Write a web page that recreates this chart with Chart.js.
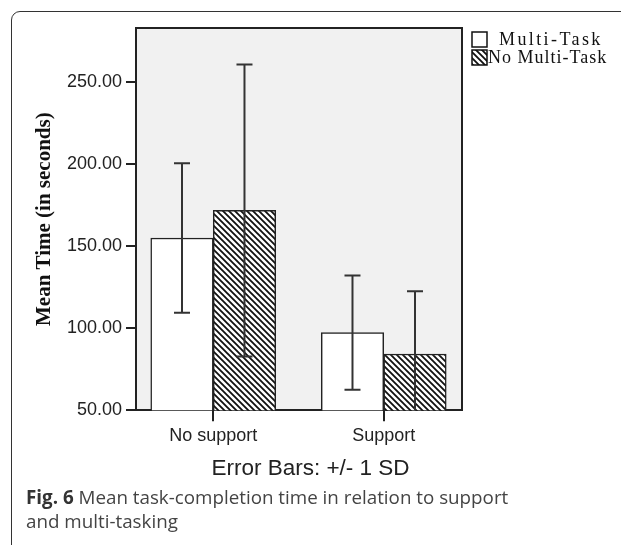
<!DOCTYPE html>
<html>
<head>
<meta charset="utf-8">
<script src="https://cdn.jsdelivr.net/npm/chart.js@4/dist/chart.umd.min.js"></script>
<style>
  body { margin: 0; background: #fff; }
  #frame {
    position: absolute; left: 11px; top: 11px; width: 700px; height: 600px;
    border: 1.5px solid #333; border-top-left-radius: 9px;
  }
  #myChart { position: absolute; left: 0; top: 0; }
  #caption {
    position: absolute; left: 26px; top: 485px;
    font-family: "Open Sans", sans-serif; font-size: 18.8px; line-height: 24px; color: #444;
  }
  #caption b { color: #333; }
</style>
</head>
<body>
<div id="frame"></div>
<canvas id="myChart" width="621" height="490"></canvas>
<div id="caption"><b>Fig. 6</b> Mean task-completion time in relation to support<br>and multi-tasking</div>
<script>
/**
 * chart values
 */
var categories = ['No support', 'Support'];
var multiMean = [155.0, 97.4];
var multiSD = [45.5, 34.8];
var noMultiMean = [171.8, 84.3];
var noMultiSD = [89.0, 38.2];
var yTicks = [50, 100, 150, 200, 250];

// diagonal hatch for the "No Multi-Task" bars
function makeHatch() {
  var c = document.createElement('canvas');
  c.width = 6; c.height = 6;
  var g = c.getContext('2d');
  g.fillStyle = '#fff';
  g.fillRect(0, 0, 6, 6);
  g.strokeStyle = '#111';
  g.lineWidth = 1.8;
  g.beginPath();
  g.moveTo(-1, -1); g.lineTo(7, 7);
  g.moveTo(5, -1); g.lineTo(7, 1);
  g.moveTo(-1, 5); g.lineTo(1, 7);
  g.stroke();
  return g.createPattern(c, 'repeat');
}
var hatch = makeHatch();

const plotBox = {
  id: 'plotBox',
  beforeDraw(chart) {
    const a = chart.chartArea, ctx = chart.ctx;
    ctx.save();
    ctx.fillStyle = '#f1f1f1';
    ctx.fillRect(a.left, a.top, a.right - a.left, a.bottom - a.top);
    ctx.restore();
  },
  afterDraw(chart) {
    const a = chart.chartArea, ctx = chart.ctx;
    ctx.save();
    ctx.strokeStyle = '#222';
    ctx.lineWidth = 2;
    ctx.beginPath();
    ctx.moveTo(a.left, a.top);
    ctx.lineTo(a.right, a.top);
    ctx.lineTo(a.right, a.bottom);
    ctx.stroke();
    ctx.restore();
  }
};

const errorBars = {
  id: 'errorBars',
  afterDatasetsDraw(chart) {
    const ctx = chart.ctx, a = chart.chartArea, y = chart.scales.y;
    ctx.save();
    ctx.beginPath();
    ctx.rect(a.left, a.top, a.right - a.left, a.bottom - a.top);
    ctx.clip();
    ctx.strokeStyle = '#333';
    ctx.lineWidth = 2;
    chart.data.datasets.forEach((ds, i) => {
      chart.getDatasetMeta(i).data.forEach((bar, j) => {
        const m = ds.data[j].y, s = ds.sd[j];
        const hi = y.getPixelForValue(m + s), lo = y.getPixelForValue(m - s);
        ctx.beginPath();
        ctx.moveTo(bar.x, hi); ctx.lineTo(bar.x, lo);
        ctx.moveTo(bar.x - 8, hi); ctx.lineTo(bar.x + 8, hi);
        ctx.moveTo(bar.x - 8, lo); ctx.lineTo(bar.x + 8, lo);
        ctx.stroke();
      });
    });
    ctx.restore();
  }
};

const sideLegend = {
  id: 'sideLegend',
  afterDraw(chart) {
    const ctx = chart.ctx;
    const rows = [{ x: 499, y: 32, sp: '2.4px' }, { x: 488, y: 50, sp: '1px' }];
    ctx.save();
    ctx.font = '18px "Liberation Serif", serif';
    ctx.textBaseline = 'middle';
    chart.data.datasets.forEach((ds, i) => {
      const r = rows[i];
      ctx.fillStyle = ds.backgroundColor;
      ctx.fillRect(472, r.y, 15, 15);
      ctx.strokeStyle = '#111';
      ctx.lineWidth = 1.5;
      ctx.strokeRect(472, r.y, 15, 15);
      ctx.fillStyle = '#111';
      ctx.letterSpacing = r.sp;
      ctx.fillText(ds.label, r.x, r.y + 8);
    });
    ctx.restore();
  }
};

const data = {
  datasets: [
    {
      label: 'Multi-Task',
      data: multiMean.map((v, i) => ({ x: i, y: v })),
      sd: multiSD,
      backgroundColor: '#ffffff',
      borderColor: '#222',
      borderWidth: 1.5,
    },
    {
      label: 'No Multi-Task',
      data: noMultiMean.map((v, i) => ({ x: i, y: v })),
      sd: noMultiSD,
      backgroundColor: hatch,
      borderColor: '#222',
      borderWidth: 1.5,
    }
  ]
};

const config = {
  type: 'bar',
  data,
  options: {
    responsive: false,
    animation: false,
    devicePixelRatio: 1,
    barThickness: 62.5,
    layout: { padding: { top: 28, right: 0, bottom: 0, left: 0 } },
    plugins: {
      legend: { display: false },
      tooltip: { enabled: false },
      title: {
        display: true,
        position: 'bottom',
        text: 'Error Bars: +/- 1 SD',
        color: '#222',
        font: { family: '"Liberation Sans", Arial', size: 22.5, weight: 'normal' },
        padding: { top: 0, bottom: 8 }
      }
    },
    scales: {
      x: {
        type: 'linear',
        min: -0.453,
        max: 1.459,
        offset: false,
        afterBuildTicks: (s) => { s.ticks = categories.map((c, i) => ({ value: i })); },
        afterFit: (s) => { s.height = 44.7; },
        ticks: {
          callback: (v) => categories[v],
          color: '#222',
          font: { family: '"Liberation Sans", Arial', size: 18 },
          padding: 4,
          maxRotation: 0
        },
        grid: { drawOnChartArea: false, offset: false, tickLength: 11, color: '#222', lineWidth: 2 },
        border: { color: '#222', width: 2 }
      },
      y: {
        min: 50,
        max: 283,
        afterBuildTicks: (s) => { s.ticks = yTicks.map(v => ({ value: v })); },
        afterFit: (s) => { s.width = 136; },
        ticks: {
          callback: (v) => v.toFixed(2),
          color: '#222',
          font: { family: '"Liberation Sans", Arial', size: 18 },
          padding: 4
        },
        grid: { drawOnChartArea: false, tickLength: 10, color: '#222', lineWidth: 2 },
        border: { color: '#222', width: 2 },
        title: {
          display: true,
          text: 'Mean Time (in seconds)',
          color: '#111',
          font: { family: '"Liberation Serif", serif', size: 21, weight: 'bold' },
          padding: { top: 32, bottom: 0 }
        }
      },
      // empty right-hand strip that holds the legend
      side: {
        type: 'linear',
        position: 'right',
        afterFit: (s) => { s.width = 159; },
        ticks: { display: false },
        grid: { display: false },
        border: { display: false }
      }
    }
  },
  plugins: [plotBox, errorBars, sideLegend]
};

document.addEventListener('DOMContentLoaded', (event) => {
  myChart = new Chart(document.getElementById('myChart'), config);
});
</script>
</body>
</html>
